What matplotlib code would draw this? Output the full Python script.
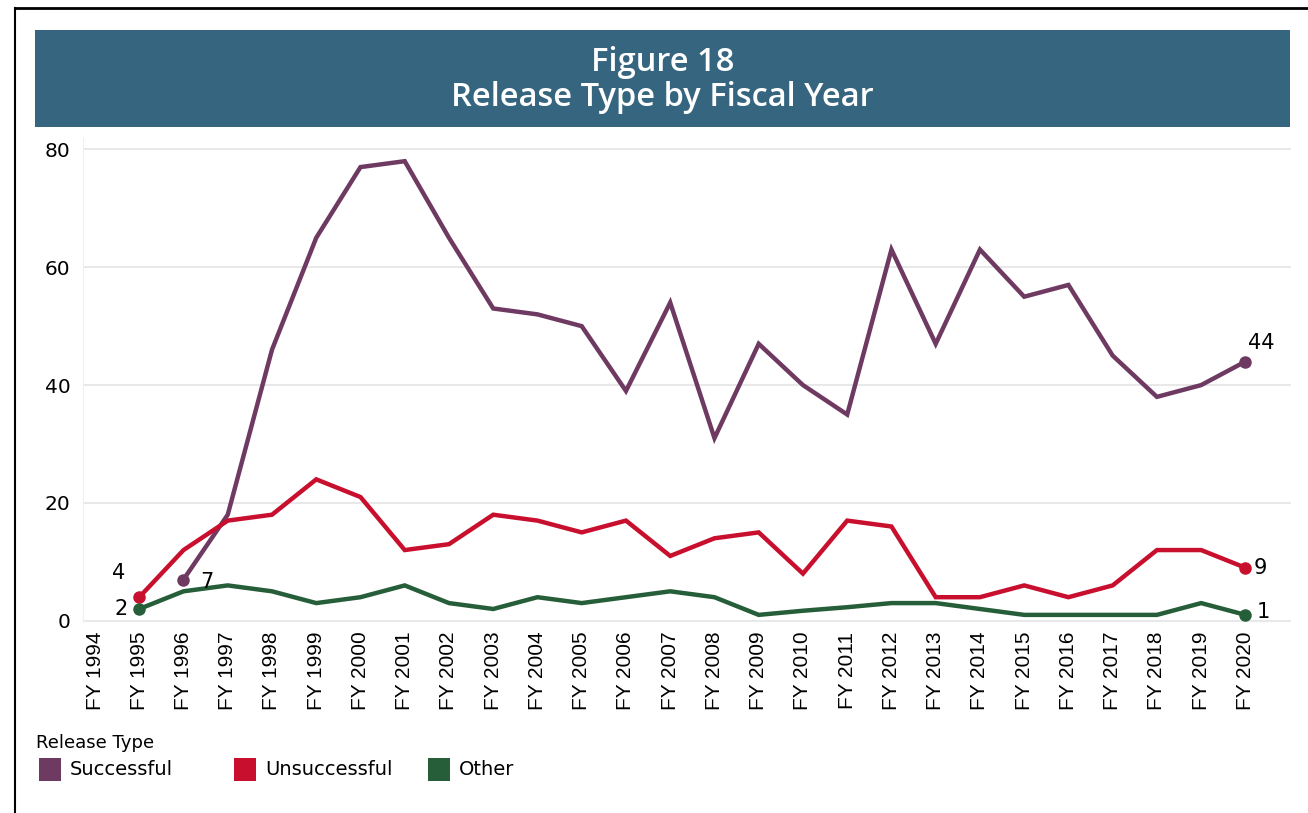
import numpy as np
import matplotlib.pyplot as plt
from matplotlib.patches import Rectangle
from matplotlib.lines import Line2D

years = ['FY %d' % y for y in range(1994, 2021)]

# None = no value for that year
successful = [None, None, 7, 18, 46, 65, 77, 78, 65, 53, 52, 50, 39, 54, 31,
              47, 40, 35, 63, 47, 63, 55, 57, 45, 38, 40, 44]
unsuccessful = [None, 4, 12, 17, 18, 24, 21, 12, 13, 18, 17, 15, 17, 11, 14,
                15, 8, 17, 16, 4, 4, 6, 4, 6, 12, 12, 9]
other = [None, 2, 5, 6, 5, 3, 4, 6, 3, 2, 4, 3, 4, 5, 4,
         1, 1.7, 2.3, 3, 3, 2, 1, 1, 1, 1, 3, 1]

names = ['Successful', 'Unsuccessful', 'Other']
colors = ['#6e3a62', '#c8102e', '#275e3a']
series = [successful, unsuccessful, other]

fig = plt.figure(figsize=(13.08, 8.13), dpi=100)

# outer frame lines
fig.add_artist(Line2D([0.0115, 1.0], [0.990, 0.990], color='black', lw=2, transform=fig.transFigure))
fig.add_artist(Line2D([0.0115, 0.0115], [0.0, 0.990], color='black', lw=1.5, transform=fig.transFigure))

# title banner
fig.patches.append(Rectangle((0.0268, 0.8438), 0.9595, 0.1193, transform=fig.transFigure,
                             facecolor='#36667f', edgecolor='none'))
fig.text(0.5065, 0.9237, 'Figure 18', ha='center', va='center', color='white',
         fontsize=23.5, family='Open Sans', weight='semibold')
fig.text(0.5065, 0.8795, 'Release Type by Fiscal Year', ha='center', va='center', color='white',
         fontsize=23.5, family='Open Sans', weight='semibold')

ax = fig.add_axes([0.0635, 0.235, 0.9235, 0.595])
x = np.arange(len(years))
for vals, c in zip(series, colors):
    y = np.array([np.nan if v is None else v for v in vals], dtype=float)
    ax.plot(x, y, color=c, lw=3.2, solid_capstyle='round', solid_joinstyle='miter', zorder=3)
    last = len(y) - 1
    first = int(np.where(~np.isnan(y))[0][0])
    ax.plot([x[first], x[last]], [y[first], y[last]], 'o', color=c, ms=8, zorder=4)

# end labels
lab = dict(fontsize=15, family='DejaVu Sans', color='black')
ax.annotate('4', (1, unsuccessful[1]), xytext=(-10, 10), textcoords='offset points', ha='right', va='bottom', **lab)
ax.annotate('2', (1, other[1]), xytext=(-8, 0), textcoords='offset points', ha='right', va='center', **lab)
ax.annotate('7', (2, successful[2]), xytext=(12, -2), textcoords='offset points', ha='left', va='center', **lab)
ax.annotate('44', (26, successful[26]), xytext=(2, 6), textcoords='offset points', ha='left', va='bottom', **lab)
ax.annotate('9', (26, unsuccessful[26]), xytext=(6, 0), textcoords='offset points', ha='left', va='center', **lab)
ax.annotate('1', (26, other[26]), xytext=(8, 2), textcoords='offset points', ha='left', va='center', **lab)

ax.set_xlim(-0.27, 27.03)
ax.set_ylim(-0.2, 81.9)
ax.set_yticks([0, 20, 40, 60, 80])
ax.set_xticks(x)
ax.set_xticklabels(years, rotation=90, fontsize=15, family='Liberation Sans')
for t in ax.get_yticklabels():
    t.set_fontsize(14.5)
    t.set_family('DejaVu Sans')
ax.tick_params(axis='y', length=0, pad=9)
ax.tick_params(axis='x', length=0, pad=7)
ax.grid(axis='y', color='#e4e4e4', lw=1.2)
ax.set_axisbelow(True)
for s in ['top', 'right', 'bottom']:
    ax.spines[s].set_visible(False)
ax.spines['left'].set_color('#f0f0f0')

# legend
fig.text(0.0275, 0.0865, 'Release Type', fontsize=13, family='DejaVu Sans', va='center')
leg_x = [0.0298, 0.1789, 0.3272]
for lx, n, c in zip(leg_x, names, colors):
    fig.patches.append(Rectangle((lx, 0.0394), 0.0165, 0.0283, transform=fig.transFigure,
                                 facecolor=c, edgecolor='none'))
    fig.text(lx + 0.0237, 0.053, n, fontsize=14, family='DejaVu Sans', va='center')

fig.savefig('out.png', dpi=100)
